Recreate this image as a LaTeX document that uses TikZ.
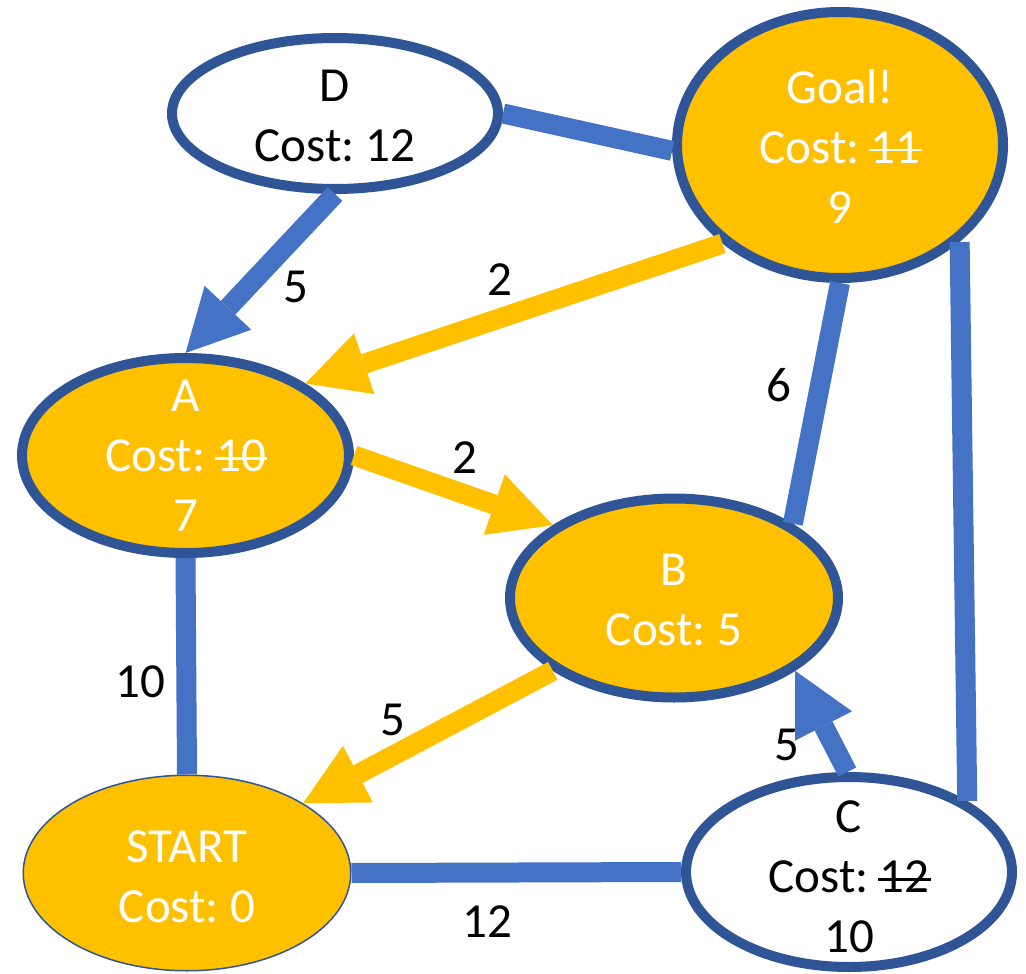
\documentclass[tikz,border=0pt]{standalone}
\usepackage{fontspec}
\setmainfont{Carlito}
\usetikzlibrary{arrows.meta,shapes.geometric}

\definecolor{ringblue}{HTML}{2F5597}
\definecolor{edgeblue}{HTML}{4472C4}
\definecolor{visited}{HTML}{FFC000}

% old cost value, struck through
\newsavebox\strikebox
\newcommand\struck[1]{\sbox\strikebox{#1}%
  \makebox[0pt][l]{\kern-0.03em\rule[0.24em]{\dimexpr\wd\strikebox+0.06em\relax}{0.055em}}%
  \usebox\strikebox}

\frenchspacing

\begin{document}
\begin{tikzpicture}[x=1pt,y=-1pt,
  every node/.style={font=\fontsize{49}{60}\selectfont},
  state/.style={ellipse, draw=ringblue, line width=10pt, inner sep=0pt},
  reached/.style={state, fill=visited},
  unreached/.style={state, fill=white},
  caption/.style={align=center, inner sep=0pt},
  link/.style={draw=edgeblue, line width=20pt},
  bluearrow/.style={link, -{Triangle[length=62pt,width=64pt,line width=0pt]}},
  goldarrow/.style={draw=visited, line width=20pt, -{Triangle[length=62pt,width=64pt,line width=0pt]}},
  weight/.style={text=black, inner sep=0pt}
]
\useasboundingbox (0,0) rectangle (1026,974);
\fill[white] (0,0) rectangle (1026,974);

% states
\node[unreached, minimum width=326pt, minimum height=151pt] (D) at (335,113.5) {};
\node[reached, minimum width=326pt, minimum height=266pt] (G) at (840,145) {};
\node[reached, minimum width=327pt, minimum height=195pt] (A) at (185.5,455.5) {};
\node[reached, minimum width=328pt, minimum height=199pt] (B) at (674,598) {};
\node[reached, line width=1.5pt, minimum width=327.5pt, minimum height=195.5pt] (S) at (187,873) {};
\node[unreached, minimum width=326pt, minimum height=190pt] (C) at (849,872) {};

% state captions
\node[caption, text=black] (Dtext) at (335,116) {D\\Cost: 12};
\node[caption, text=white] (Gtext) at (840,146) {Goal!\\Cost: \struck{11}\\9};
\node[caption, text=white] (Atext) at (185.5,456) {A\\Cost: \struck{10}\\7};
\node[caption, text=white] (Btext) at (674,600) {B\\Cost: 5};
\node[caption, text=white] (Stext) at (187,877) {START\\Cost: 0};
\node[caption, text=black] (Ctext) at (849,877) {C\\Cost: \struck{12}\\10};

% connections
\draw[link] (D.east) -- (G.182);
\draw[bluearrow] (D.south) -- (A.north);
\draw[goldarrow] (G.220) -- (A.31);
\draw[goldarrow] (A.east) -- (B.149);
\draw[link] (G.270) -- (B.32);
\draw[link] (G.-39.4) -- (C.31);
\draw[link] (A.south) -- (S.north);
\draw[goldarrow] (B.211) -- (S.31);
\draw[bluearrow] (C.91) -- (B.-31.5);
\draw[link] (S.east) -- (C.west);

% edge weights
\node[weight] (wDA) at (296,287) {5};
\node[weight] (wGA) at (500,280) {2};
\node[weight] (wAB) at (465,458) {2};
\node[weight] (wGB) at (779,385) {6};
\node[weight] (wAS) at (140,682) {10};
\node[weight] (wBS) at (393,720) {5};
\node[weight] (wCB) at (787,745) {5};
\node[weight] (wSC) at (487,922) {12};
\end{tikzpicture}
\end{document}
